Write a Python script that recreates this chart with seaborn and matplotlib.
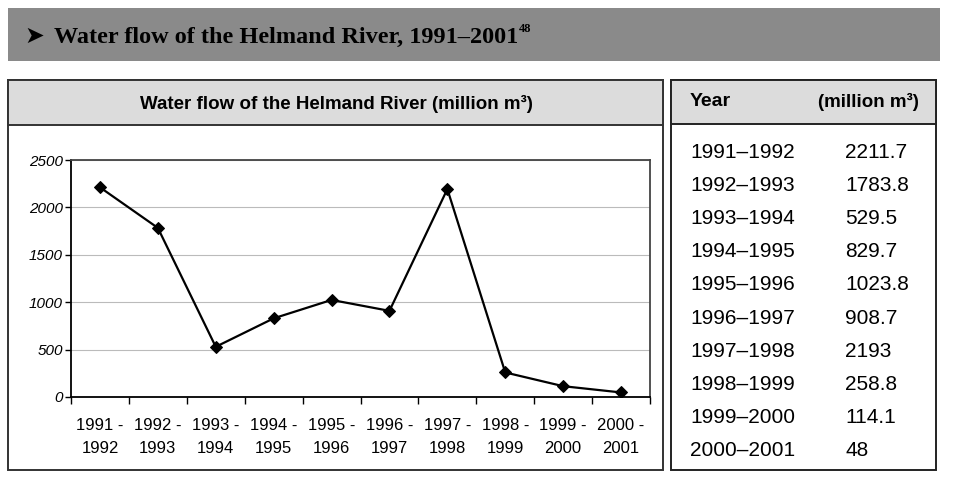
import matplotlib
matplotlib.use("Agg")
import matplotlib.pyplot as plt
from matplotlib.patches import Rectangle
from matplotlib.ticker import FixedLocator
import seaborn as sns
import numpy as np
import pandas as pd

# ---- data ----
periods = ["1991 -\n1992", "1992 -\n1993", "1993 -\n1994", "1994 -\n1995", "1995 -\n1996",
           "1996 -\n1997", "1997 -\n1998", "1998 -\n1999", "1999 -\n2000", "2000 -\n2001"]
table_years = ["1991\u20131992", "1992\u20131993", "1993\u20131994", "1994\u20131995", "1995\u20131996",
               "1996\u20131997", "1997\u20131998", "1998\u20131999", "1999\u20132000", "2000\u20132001"]
flows = [2211.7, 1783.8, 529.5, 829.7, 1023.8, 908.7, 2193, 258.8, 114.1, 48]
flow_labels = ["2211.7", "1783.8", "529.5", "829.7", "1023.8", "908.7", "2193", "258.8", "114.1", "48"]
y_ticks = [0, 500, 1000, 1500, 2000, 2500]

W, H = 960, 483
sns.set_theme(style="white")
plt.rcParams['font.family'] = ['Liberation Sans', 'DejaVu Sans']
plt.rcParams['text.color'] = 'black'
plt.rcParams['xtick.color'] = 'black'
plt.rcParams['ytick.color'] = 'black'

fig = plt.figure(figsize=(W / 100, H / 100), dpi=100)
fig.patch.set_facecolor("white")


def px_rect(x0, y0, x1, y1, **kw):
    r = Rectangle((x0 / W, 1 - y1 / H), (x1 - x0) / W, (y1 - y0) / H,
                  transform=fig.transFigure, **kw)
    fig.patches.append(r)
    return r


def px_text(x, y, s, **kw):
    kw.setdefault("color", "black")
    return fig.text(x / W, 1 - y / H, s, **kw)


# header band
px_rect(8, 8, 940, 61, facecolor="#8a8a8a", edgecolor="none", zorder=0)
px_text(24, 36, "\u27A4", fontsize=17, va="center", ha="left",
        family=["DejaVu Sans"], fontweight="bold")
head = px_text(54, 37, "Water flow of the Helmand River, 1991\u20132001", fontsize=17.5,
               family=["Liberation Serif", "DejaVu Serif"], fontweight="bold", va="center", ha="left")
renderer = fig.canvas.get_renderer()
bb = head.get_window_extent(renderer)
px_text(bb.x1 + 1, 29, "48", fontsize=9, family=["Liberation Serif", "DejaVu Serif"],
        fontweight="bold", va="center", ha="left")

# left panel
px_rect(8, 80, 663, 470, facecolor="white", edgecolor="#333333", linewidth=1.4, zorder=0)
px_rect(8, 80, 663, 125, facecolor="#dcdcdc", edgecolor="#333333", linewidth=1.4, zorder=0.5)
px_text(336, 104, "Water flow of the Helmand River (million m\u00b3)", fontsize=13.5,
        fontweight="bold", ha="center", va="center")

# table panel
px_rect(671, 80, 936, 470, facecolor="white", edgecolor="#222222", linewidth=1.4, zorder=0)
px_rect(671, 80, 936, 124, facecolor="#dcdcdc", edgecolor="#222222", linewidth=1.4, zorder=0.5)
px_text(690, 102, "Year", fontsize=14, fontweight="bold", ha="left", va="center")
px_text(818, 102, "(million m\u00b3)", fontsize=13.5, fontweight="bold", ha="left", va="center")
for i, (yr, lab) in enumerate(zip(table_years, flow_labels)):
    yy = 152 + i * 33.2
    px_text(690, yy, yr, fontsize=15, ha="left", va="center")
    px_text(845, yy, lab, fontsize=15, ha="left", va="center")

# chart axes
ax = fig.add_axes([71 / W, 1 - 397 / H, (650 - 71) / W, (397 - 160) / H])
ax.set_zorder(5)
df = pd.DataFrame({"period": periods, "flow": flows})
sns.lineplot(data=df, x="period", y="flow", ax=ax, color="black", linewidth=1.6,
             marker="D", markersize=6.5, markeredgecolor="black", markerfacecolor="black",
             sort=False)
ax.set_xlim(-0.5, len(periods) - 0.5)
ax.set_ylim(0, 2500)
ax.set_yticks(y_ticks)
ax.set_yticklabels([str(v) for v in y_ticks], fontstyle="italic", fontsize=11)
ax.set_xticks(range(len(periods)))
ax.set_xticklabels(periods, fontsize=12, linespacing=1.65)
ax.xaxis.set_minor_locator(FixedLocator(np.arange(-0.5, len(periods), 1.0)))
ax.tick_params(axis="x", which="major", length=0, pad=15)
ax.tick_params(axis="x", which="minor", length=5, width=1, color="black", direction="out", bottom=True)
ax.tick_params(axis="y", which="major", length=4, width=1, color="black", direction="out", left=True, pad=2)
ax.set_xlabel("")
ax.set_ylabel("")
ax.grid(axis="y", color="#bbbbbb", linewidth=0.8)
ax.set_axisbelow(True)
for side in ["top", "right"]:
    ax.spines[side].set_color("#444444")
    ax.spines[side].set_linewidth(1.3)
for side in ["left", "bottom"]:
    ax.spines[side].set_color("black")
    ax.spines[side].set_linewidth(1.3)
ax.set_facecolor("white")

fig.savefig("out.png", dpi=100)
